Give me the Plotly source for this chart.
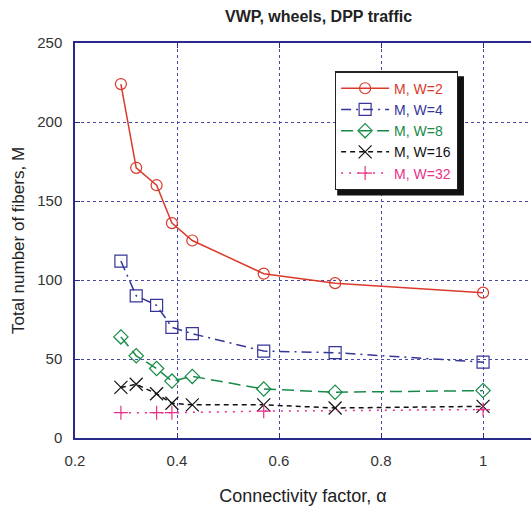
import plotly.graph_objects as go

alpha = [0.29, 0.32, 0.36, 0.39, 0.43, 0.57, 0.71, 1.0]
m_w2 = [224, 171, 160, 136, 125, 104, 98, 92]
m_w4 = [112, 90, 84, 70, 66, 55, 54, 48]
m_w8 = [64, 52, 44, 36, 39, 31, 29, 30]
m_w16 = [32, 34, 28, 22, 21, 21, 19, 20]
alpha_w32 = [0.29, 0.36, 0.39, 0.57, 1.0]
m_w32 = [16, 16, 16, 17, 18]

series = [
    ("M, W=2", alpha, m_w2, "#d93a2b", "solid", "circle-open", 11),
    ("M, W=4", alpha, m_w4, "#35359a", "10px,5px,2px,5px", "square-open", 12),
    ("M, W=8", alpha, m_w8, "#168a48", "12px,6px", "diamond-open", 11),
    ("M, W=16", alpha, m_w16, "#111111", "5px,4px", "x-thin-open", 13),
    ("M, W=32", alpha_w32, m_w32, "#e8318a", "2px,6px", "cross-thin-open", 10),
]

fig = go.Figure()
for name, xs, ys, col, dash, sym, sz in series:
    fig.add_trace(go.Scatter(
        x=xs, y=ys, mode="lines+markers",
        name=f'<span style="color:{col}">{name}</span>',
        line=dict(color=col, width=1.5, dash=dash),
        marker=dict(symbol=sym, size=sz, color=col, line=dict(color=col, width=1.2)),
    ))

navy = "#2a2a8c"
font = "Liberation Sans, Arial"
axis_common = dict(
    showline=True, linecolor=navy, linewidth=1.5,
    ticks="inside", ticklen=5, tickcolor=navy,
    showgrid=True, gridcolor="#4a4aa8", griddash="dot", gridwidth=1,
    zeroline=False,
    tickfont=dict(family=font, size=15, color="#333333"),
)

fig.update_layout(
    width=531, height=506,
    margin=dict(l=75, r=0, t=43, b=68),
    paper_bgcolor="white", plot_bgcolor="white",
    title=dict(text="<b>VWP, wheels, DPP traffic</b>", x=0.6, xanchor="center",
               y=0.967, yanchor="middle",
               font=dict(family=font, size=16, color="#222222")),
    xaxis=dict(range=[0.2, 1.094], tickvals=[0.2, 0.4, 0.6, 0.8, 1.0],
               ticktext=["0.2", "0.4", "0.6", "0.8", "1"],
               mirror="ticks", ticklabelstandoff=8,
               title=dict(text="Connectivity factor, α", standoff=24,
                          font=dict(family=font, size=18, color="#222222")),
               **axis_common),
    yaxis=dict(range=[0, 250], tickvals=[0, 50, 100, 150, 200, 250],
               mirror=False, ticklabelstandoff=8,
               title=dict(text="Total number of fibers, M", standoff=8,
                          font=dict(family=font, size=17, color="#222222")),
               **axis_common),
    legend=dict(x=0.57, y=0.928, xanchor="left", yanchor="top",
                bgcolor="white", bordercolor="#222222", borderwidth=1.2,
                font=dict(family=font, size=14),
                itemwidth=48, tracegroupgap=0),
    showlegend=True,
)

fig.add_shape(type="rect", xref="paper", yref="paper",
              x0=0.575, x1=0.853, y0=0.614, y1=0.916,
              fillcolor="#111111", line=dict(width=0), layer="above")

fig.write_html("out.html")
